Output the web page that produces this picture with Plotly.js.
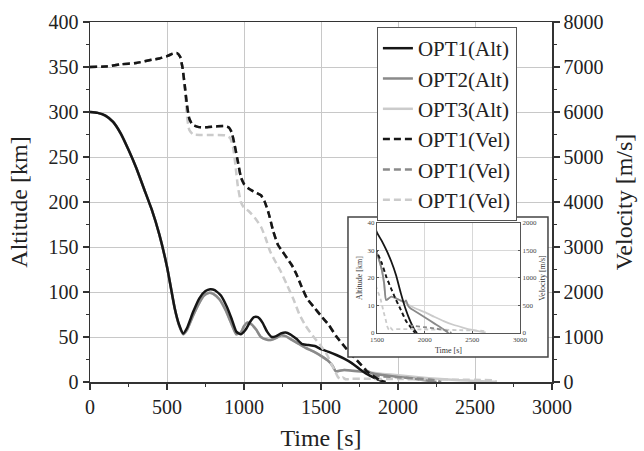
<!DOCTYPE html>
<html>
<head>
<meta charset="utf-8">
<script src="https://cdn.plot.ly/plotly-3.0.1.min.js"></script>
<style>html,body{margin:0;padding:0;background:#fff;}#chart{width:644px;height:451px;}</style>
</head>
<body>
<div id="chart"></div>
<script>
// ---- Data ----
var seriesNames = ["OPT1(Alt)", "OPT2(Alt)", "OPT3(Alt)", "OPT1(Vel)", "OPT1(Vel)", "OPT1(Vel)"];

// OPT1 altitude [km]
var tAlt1 = [0,50,100,150,200,250,300,350,400,450,500,550,580,605,630,670,710,750,780,810,850,890,920,950,980,1010,1040,1065,1090,1120,1150,1180,1210,1240,1270,1300,1340,1380,1420,1460,1500,1550,1600,1650,1700,1750,1800,1850,1900,1920];
var alt1  = [300,299,296,289,276,258,238,215,192,164,128,82,63,54,60,78,93,101,103,102,96,83,70,56,53,58,67,72,72,66,56,50,51,54,55,53,48,42,41,40,36.5,33.5,30,26,21,14.5,8.7,4.2,0.8,0];

// OPT2 altitude [km]
var tAlt2 = [0,50,100,150,200,250,300,350,400,450,500,550,580,605,630,670,710,740,770,800,840,880,920,950,980,1000,1020,1050,1080,1110,1150,1180,1210,1240,1270,1300,1350,1400,1450,1500,1550,1575,1595,1620,1650,1700,1750,1790,1805,1825,1850,1900,2000,2100,2200,2250];
var alt2  = [300,299,296,289,276,258,238,215,192,164,128,82,62,53,58,74,88,96,99,98,92,80,64,53,55,62,66,64,58,50,47,47,49,52,51,48,43,38,34,29,23,18,12,12.5,13.2,12.6,11.8,11.3,11.9,10,9,7.9,5.7,3.5,1.3,0];

// OPT3 altitude [km]
var tAlt3 = [0,50,100,150,200,250,300,350,400,450,500,550,580,605,630,670,710,740,770,800,840,880,920,950,980,1000,1020,1050,1080,1110,1150,1180,1210,1240,1270,1300,1350,1400,1450,1500,1550,1575,1595,1620,1650,1700,1800,1900,2000,2100,2200,2300,2400,2500,2600,2640];
var alt3  = [300,299,296,289,276,258,238,215,192,164,128,82,62,53,58,74,88,96,99,98,92,80,64,53,55,62,66,64,58,50,47,47,49,52,51,48,43,38,34,29,23,18,12,12.5,13.2,12.6,10.8,9.0,7.6,5.9,4.3,3.0,2.0,1.1,0.4,0.2];

// OPT1 velocity [m/s]
var tVel1 = [0,100,200,300,400,450,500,540,565,585,600,615,630,645,665,700,760,820,870,900,920,940,960,980,1000,1030,1070,1110,1135,1160,1190,1220,1250,1280,1310,1340,1370,1410,1450,1500,1550,1600,1650,1700,1750,1800,1850,1880,1900];
var vel1  = [7000,7010,7060,7090,7160,7190,7240,7300,7310,7230,7000,6600,6150,5850,5720,5670,5660,5680,5690,5660,5550,5250,4900,4550,4400,4300,4220,4150,4000,3750,3350,3050,2900,2750,2600,2400,2150,1850,1680,1470,1270,1010,800,600,420,230,110,40,0];

// OPT2 velocity [m/s]
var tVel2 = [0,100,200,300,400,450,500,540,565,585,600,615,630,645,665,700,760,820,870,900,920,940,960,980,1000,1030,1070,1110,1135,1160,1190,1220,1250,1280,1310,1340,1370,1410,1450,1500,1550,1600,1650,1700,1750,1790,1820,1850,1900,2000,2100,2200,2260,2280];
var vel2  = [7000,7010,7060,7090,7160,7190,7240,7300,7310,7230,7000,6600,6150,5850,5720,5670,5660,5680,5690,5660,5550,5250,4900,4550,4400,4300,4220,4150,4000,3750,3350,3050,2900,2750,2600,2400,2150,1850,1680,1470,1270,1010,800,600,420,280,170,140,125,105,85,55,25,0];

// OPT3 velocity [m/s]
var tVel3 = [0,100,200,300,400,450,500,540,565,585,600,615,630,645,670,720,800,880,910,930,945,960,980,1000,1030,1070,1110,1140,1170,1200,1240,1280,1320,1360,1400,1450,1500,1540,1570,1590,1610,1625,1640,1660,1700,1800,2000,2200,2400,2550,2620,2640];
var vel3  = [7000,7010,7060,7090,7160,7190,7240,7300,7310,7230,7000,6500,5900,5600,5500,5490,5490,5480,5420,5200,4800,4350,4000,3870,3800,3650,3450,3200,2900,2700,2450,2150,1850,1500,1250,1010,800,600,380,250,110,60,100,60,70,70,65,60,50,45,35,0];

var xTicks = [0,500,1000,1500,2000,2500,3000];

// ---- Styles ----
var FONT = "'Liberation Serif', 'Times New Roman', Times, serif";
var C1 = "#161616", C2 = "#8a8a8a", C3 = "#cbcbcb";
var DASH = "7px,4px";

function tr(x, y, name, color, dash, yax, xax, width, show, rank) {
  return {
    x: x, y: y, name: name, type: "scatter", mode: "lines",
    xaxis: xax, yaxis: yax,
    line: {color: color, width: width, dash: dash, shape: "spline", smoothing: 0.5},
    showlegend: show, legendrank: rank, hoverinfo: "skip"
  };
}

var traces = [
  tr(tAlt3, alt3, seriesNames[2], C3, "solid", "y", "x", 2.5, true, 3),
  tr(tAlt2, alt2, seriesNames[1], C2, "solid", "y", "x", 2.5, true, 2),
  tr(tAlt1, alt1, seriesNames[0], C1, "solid", "y", "x", 2.5, true, 1),
  tr(tVel3, vel3, seriesNames[5], C3, DASH, "y2", "x", 2.5, true, 6),
  tr(tVel2, vel2, seriesNames[4], C2, DASH, "y2", "x", 2.5, true, 5),
  tr(tVel1, vel1, seriesNames[3], C1, DASH, "y2", "x", 2.5, true, 4),
  {x: [2000], y: [0], xaxis: "x3", yaxis: "y3", type: "scatter", mode: "markers",
   marker: {opacity: 0}, showlegend: false, hoverinfo: "skip"},
  tr(tAlt3, alt3, seriesNames[2], C3, "solid", "y4", "x4", 1.8, false),
  tr(tAlt2, alt2, seriesNames[1], C2, "solid", "y4", "x4", 1.8, false),
  tr(tAlt1, alt1, seriesNames[0], C1, "solid", "y4", "x4", 1.8, false),
  tr(tVel3, vel3, seriesNames[5], C3, "4px,3px", "y5", "x4", 1.8, false),
  tr(tVel2, vel2, seriesNames[4], C2, "4px,3px", "y5", "x4", 1.8, false),
  tr(tVel1, vel1, seriesNames[3], C1, "4px,3px", "y5", "x4", 1.8, false)
];

var axCommon = {
  showline: true, linecolor: "#333", linewidth: 1.5, zeroline: false,
  ticks: "outside", ticklen: 6, tickwidth: 1.2, tickcolor: "#333",
  tickfont: {family: FONT, size: 20, color: "#222"},
  gridcolor: "#c8c8c8", gridwidth: 1
};
function merge(a, b) { var o = {}; for (var k in a) o[k] = a[k]; for (var k2 in b) o[k2] = b[k2]; return o; }

var insetAx = {
  showline: true, linecolor: "#555", linewidth: 1, zeroline: false,
  ticks: "inside", ticklen: 2, tickcolor: "#555",
  tickfont: {family: FONT, size: 7, color: "#444"},
  gridcolor: "#d8d8d8", gridwidth: 1
};

var layout = {
  width: 644, height: 451,
  margin: {l: 90, r: 92, t: 22, b: 69},
  paper_bgcolor: "#ffffff", plot_bgcolor: "#ffffff",
  font: {family: FONT, color: "#222"},
  showlegend: true,
  legend: {
    x: 0.621, y: 0.986, xanchor: "left", yanchor: "top",
    bgcolor: "#ffffff", bordercolor: "#555", borderwidth: 1,
    font: {family: FONT, size: 21, color: "#222"},
    tracegroupgap: 0
  },
  xaxis: merge(axCommon, {
    range: [0, 3000], tickvals: xTicks, showgrid: true, mirror: true, anchor: "y",
    minor: {dtick: 250, tick0: 0, ticks: "outside", ticklen: 3, tickcolor: "#333", showgrid: false},
    title: {text: "Time [s]", font: {family: FONT, size: 24, color: "#222"}, standoff: 12}
  }),
  yaxis: merge(axCommon, {
    range: [0, 400], dtick: 50, tick0: 0, showgrid: true, mirror: true, anchor: "x",
    minor: {dtick: 25, tick0: 0, ticks: "outside", ticklen: 3, tickcolor: "#333", showgrid: false},
    title: {text: "Altitude [km]", font: {family: FONT, size: 24, color: "#222"}, standoff: 14}
  }),
  yaxis2: merge(axCommon, {
    range: [0, 8000], dtick: 1000, tick0: 0, showgrid: false, overlaying: "y", side: "right", anchor: "x",
    minor: {dtick: 500, tick0: 0, ticks: "outside", ticklen: 3, tickcolor: "#333", showgrid: false},
    title: {text: "Velocity [m/s]", font: {family: FONT, size: 24, color: "#222"}, standoff: 12}
  }),
  xaxis3: {domain: [0.5584, 0.9913], range: [0, 1], visible: false, fixedrange: true, anchor: "y3"},
  yaxis3: {domain: [0.0694, 0.4583], range: [0, 1], visible: false, fixedrange: true, anchor: "x3"},
  xaxis4: merge(insetAx, {
    domain: [0.6212, 0.9307], range: [1500, 3000], dtick: 500, tick0: 0, anchor: "y4", mirror: true, showgrid: true,
    title: {text: "Time [s]", font: {family: FONT, size: 8, color: "#333"}, standoff: 3}
  }),
  yaxis4: merge(insetAx, {
    domain: [0.1361, 0.4417], range: [0, 40], dtick: 10, tick0: 0, anchor: "x4", mirror: true, showgrid: true,
    title: {text: "Altitude [km]", font: {family: FONT, size: 8, color: "#333"}, standoff: 3}
  }),
  yaxis5: merge(insetAx, {
    range: [0, 2000], dtick: 500, tick0: 0, anchor: "x4", overlaying: "y4", side: "right", showgrid: false,
    title: {text: "Velocity [m/s]", font: {family: FONT, size: 8, color: "#333"}, standoff: 3}
  }),
  shapes: [{
    type: "rect", xref: "paper", yref: "paper",
    x0: 0.5584, x1: 0.9913, y0: 0.0694, y1: 0.4583,
    line: {color: "#444", width: 1.5}, fillcolor: "rgba(0,0,0,0)", layer: "above"
  }]
};

Plotly.newPlot("chart", traces, layout, {displayModeBar: false, staticPlot: true});
</script>
</body>
</html>
